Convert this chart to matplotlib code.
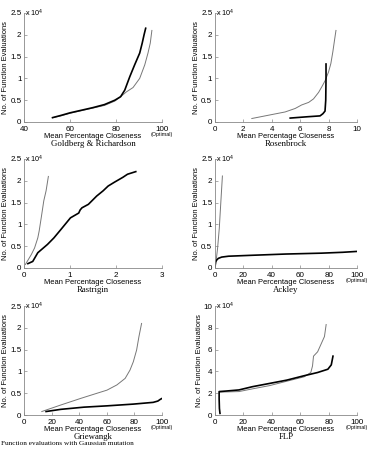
import numpy as np
import matplotlib
matplotlib.use('Agg')
import matplotlib.pyplot as plt
from matplotlib.ticker import FuncFormatter

plt.rcParams['font.family'] = ['Liberation Sans', 'DejaVu Sans']
plt.rcParams['mathtext.fontset'] = 'custom'
plt.rcParams['mathtext.rm'] = 'Liberation Sans'

#%% data (y in units of 10^4 function evaluations)

# Goldberg & Richardson
gr_thick_x = [52.4, 56, 60, 65, 70, 75, 79.5, 82, 83.8, 86, 88.1, 90.3, 91.4, 92.2, 92.9]
gr_thick_y = [0.10, 0.15, 0.21, 0.27, 0.33, 0.40, 0.50, 0.58, 0.73, 1.04, 1.31, 1.58, 1.81, 2.00, 2.15]
gr_thin_x = [52.6, 56, 60, 65, 70, 75, 79.5, 82, 84.5, 87.4, 90.3, 92.5, 93.9, 94.9, 95.6]
gr_thin_y = [0.10, 0.14, 0.20, 0.26, 0.32, 0.38, 0.48, 0.58, 0.69, 0.79, 1.00, 1.31, 1.58, 1.81, 2.10]

# Rosenbrock
rb_thick_x = [5.3, 6.5, 7.4, 7.6, 7.75, 7.8, 7.82, 7.82]
rb_thick_y = [0.09, 0.12, 0.14, 0.19, 0.25, 0.5, 1.0, 1.33]
rb_thin_x = [2.6, 4.0, 4.94, 5.65, 6.1, 6.6, 6.94, 7.3, 7.58, 7.76, 8.0, 8.16, 8.3, 8.42, 8.52]
rb_thin_y = [0.08, 0.17, 0.23, 0.31, 0.39, 0.45, 0.53, 0.68, 0.84, 0.95, 1.15, 1.34, 1.61, 1.88, 2.10]

# Rastrigin
ra_thick_x = [0.085, 0.19, 0.30, 0.51, 0.65, 0.80, 1.01, 1.19, 1.22, 1.26, 1.40, 1.58, 1.72, 1.83, 1.97, 2.15, 2.25, 2.43]
ra_thick_y = [0.10, 0.15, 0.35, 0.54, 0.69, 0.88, 1.15, 1.26, 1.33, 1.38, 1.46, 1.65, 1.77, 1.88, 1.97, 2.08, 2.15, 2.21]
ra_thin_x = [0.03, 0.16, 0.23, 0.30, 0.33, 0.38, 0.43, 0.48, 0.53]
ra_thin_y = [0.08, 0.31, 0.46, 0.69, 0.85, 1.19, 1.54, 1.77, 2.10]

# Ackley
ak_thick_x = [0.0, 0.5, 1.2, 2.4, 4.8, 9.6, 25, 50, 75, 90, 100]
ak_thick_y = [0.02, 0.14, 0.18, 0.22, 0.25, 0.27, 0.29, 0.32, 0.34, 0.36, 0.38]
ak_thin_x = [0.5, 1.9, 3.1, 4.1, 4.8, 5.3]
ak_thin_y = [0.06, 0.45, 0.91, 1.46, 1.84, 2.11]

# Griewangk
gw_thick_x = [16, 26.7, 43.4, 60.1, 79.2, 93.6, 97, 98.8, 100]
gw_thick_y = [0.08, 0.13, 0.18, 0.21, 0.25, 0.29, 0.32, 0.36, 0.38]
gw_thin_x = [12.9, 26.7, 41, 53, 60.1, 67.3, 73.3, 76.8, 79.2, 81.6, 83.3, 85.2]
gw_thin_y = [0.08, 0.23, 0.38, 0.50, 0.57, 0.69, 0.84, 1.03, 1.22, 1.49, 1.80, 2.10]

# FLP
flp_thick_x = [3.6, 3.2, 3.0, 3.0, 8, 16.9, 26.5, 38.6, 50.6, 62.7, 72.3, 79.5, 81.9, 83.1]
flp_thick_y = [0.15, 0.6, 1.5, 2.15, 2.2, 2.3, 2.6, 2.9, 3.2, 3.6, 3.9, 4.2, 4.6, 5.4]
flp_thin_x = [3.1, 16.9, 26.5, 38.6, 50.6, 62.7, 67.5, 68.7, 69.4, 72.3, 74.7, 77.1, 78.3]
flp_thin_y = [2.1, 2.15, 2.4, 2.7, 3.1, 3.5, 3.9, 4.5, 5.4, 5.8, 6.5, 7.2, 8.3]

titles = ['Goldberg & Richardson', 'Rosenbrock', 'Rastrigin', 'Ackley', 'Griewangk', 'FLP']
xlims = [(40, 100), (0, 10), (0, 3), (0, 100), (0, 100), (0, 100)]
xticks = [[40, 60, 80, 100], [0, 2, 4, 6, 8, 10], [0, 1, 2, 3],
          [0, 20, 40, 60, 80, 100], [0, 20, 40, 60, 80, 100], [0, 20, 40, 60, 80, 100]]
yticks = [[0, 0.5, 1, 1.5, 2, 2.5]] * 5 + [[0, 2, 4, 6, 8, 10]]
optimal = [True, False, False, True, True, True]

curves = [(gr_thick_x, gr_thick_y, gr_thin_x, gr_thin_y),
          (rb_thick_x, rb_thick_y, rb_thin_x, rb_thin_y),
          (ra_thick_x, ra_thick_y, ra_thin_x, ra_thin_y),
          (ak_thick_x, ak_thick_y, ak_thin_x, ak_thin_y),
          (gw_thick_x, gw_thick_y, gw_thin_x, gw_thin_y),
          (flp_thick_x, flp_thick_y, flp_thin_x, flp_thin_y)]

#%% layout (figure fractions)
lefts = [0.064, 0.573]
widths = [0.368, 0.379]
bottoms = [0.7295, 0.4058, 0.0798]
height = 0.2417

fig = plt.figure(figsize=(3.75, 4.51), dpi=100)
fig.patch.set_facecolor('white')

for k in range(6):
    r, c = divmod(k, 2)
    ax = fig.add_axes([lefts[c], bottoms[r], widths[c], height])
    tx, ty, nx, ny = curves[k]
    ax.plot(nx, ny, color='#777777', lw=0.7)
    ax.plot(tx, ty, color='black', lw=1.2)
    ax.set_xlim(*xlims[k])
    ax.set_ylim(yticks[k][0], yticks[k][-1])
    ax.set_xticks(xticks[k])
    ax.set_yticks(yticks[k])
    ax.xaxis.set_major_formatter(FuncFormatter(lambda v, p: '%g' % v))
    ax.yaxis.set_major_formatter(FuncFormatter(lambda v, p: '%g' % v))
    for s in ['top', 'right']:
        ax.spines[s].set_visible(False)
    for s in ['left', 'bottom']:
        ax.spines[s].set_color('#888888')
        ax.spines[s].set_linewidth(0.6)
    ax.tick_params(direction='in', length=2, width=0.5, color='#888888',
                   labelsize=5.8)
    ax.tick_params(axis='x', pad=2.6)
    ax.tick_params(axis='y', pad=1.8)
    ax.set_xlabel('Mean Percentage Closeness', fontsize=5.4, labelpad=0)
    ax.set_ylabel('No. of Function Evaluations', fontsize=5.4, labelpad=0.6)
    ax.text(0.01, 1.0, 'x 10$^4$', transform=ax.transAxes, fontsize=5.2,
            ha='left', va='center')
    if optimal[k]:
        ax.text(1.0, -0.115, '(Optimal)', transform=ax.transAxes, fontsize=3.8,
                ha='center', va='center')
    ax.text(0.5, -0.205, titles[k], transform=ax.transAxes, fontsize=6.3,
            family='Liberation Serif', ha='center', va='center')

fig.text(0.002, 0.016, 'Function evaluations with Gaussian mutation', fontsize=5.2,
         family='Liberation Serif', ha='left', va='center')

fig.savefig('out.png', dpi=100)
